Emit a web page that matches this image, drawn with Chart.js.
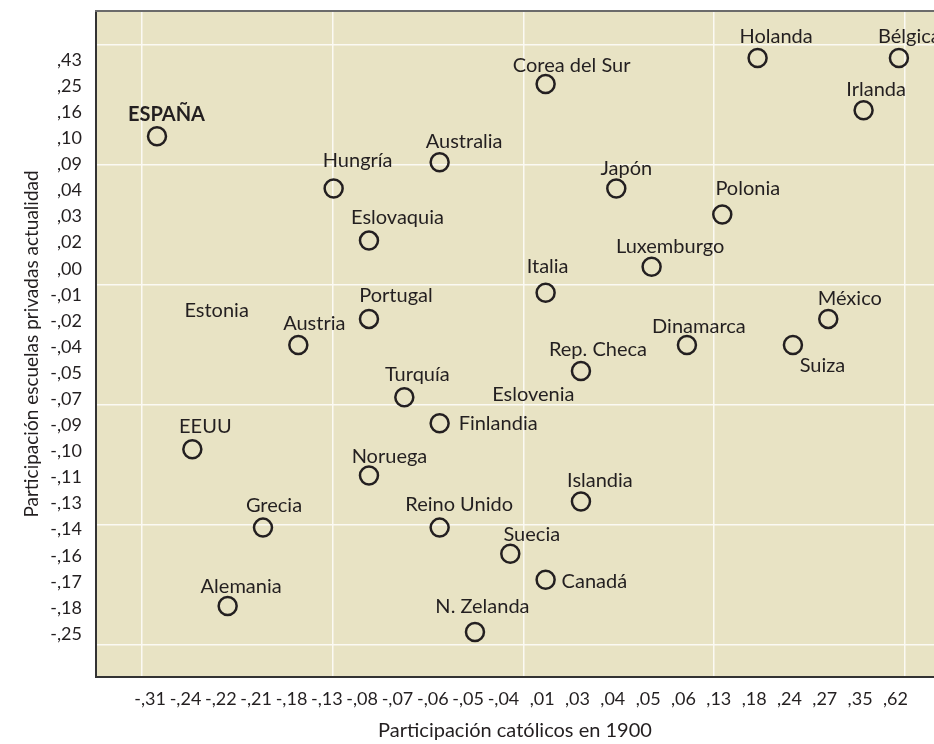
<!DOCTYPE html>
<html>
<head>
<meta charset="utf-8">
<script src="https://cdn.jsdelivr.net/npm/chart.js@4.4.1/dist/chart.umd.min.js"></script>
<style>
  html, body { margin: 0; padding: 0; background: #ffffff; }
</style>
</head>
<body>
<canvas id="c" width="934" height="744"></canvas>
<script>
// ---- data ----
const countries = ['ESPAÑA','EEUU','Alemania','Grecia','Estonia','Austria','Hungría','Eslovaquia','Portugal','Noruega','Turquía','Australia','Finlandia','Reino Unido','N. Zelanda','Suecia','Eslovenia','Corea del Sur','Italia','Canadá','Rep. Checa','Islandia','Japón','Luxemburgo','Dinamarca','Polonia','Holanda','Suiza','México','Irlanda','Bélgica'];
const catolicos1900 = [-0.31,-0.24,-0.22,-0.21,-0.22,-0.18,-0.13,-0.08,-0.08,-0.08,-0.07,-0.06,-0.06,-0.06,-0.05,-0.04,-0.04,0.01,0.01,0.01,0.03,0.03,0.04,0.05,0.06,0.13,0.18,0.24,0.27,0.35,0.62];
const escuelasPrivadas = [0.10,-0.10,-0.18,-0.14,-0.02,-0.04,0.04,0.02,-0.02,-0.11,-0.07,0.09,-0.09,-0.14,-0.25,-0.16,-0.09,0.25,-0.01,-0.17,-0.05,-0.13,0.04,0.00,-0.04,0.03,0.43,-0.04,-0.02,0.16,0.43];
const xTickLabels = ['-,31','-,24','-,22','-,21','-,18','-,13','-,08','-,07','-,06','-,05','-,04',',01',',03',',04',',05',',06',',13',',18',',24',',27',',35',',62'];
const yTickLabels = [',43',',25',',16',',10',',09',',04',',03',',02',',00','-,01','-,02','-,04','-,05','-,07','-,09','-,10','-,11','-,13','-,14','-,16','-,17','-,18','-,25'];
const xTickValues = [-0.31,-0.24,-0.22,-0.21,-0.18,-0.13,-0.08,-0.07,-0.06,-0.05,-0.04,0.01,0.03,0.04,0.05,0.06,0.13,0.18,0.24,0.27,0.35,0.62];
const yTickValues = [0.43,0.25,0.16,0.10,0.09,0.04,0.03,0.02,0.00,-0.01,-0.02,-0.04,-0.05,-0.07,-0.09,-0.10,-0.11,-0.13,-0.14,-0.16,-0.17,-0.18,-0.25];
const labelOnly = ['Estonia','Eslovenia'];
const xTitle = 'Participación católicos en 1900';
const yTitle = 'Participación escuelas privadas actualidad';

// ---- label placement (style, not data): [dx, baseline dy, align] ----
const labelPlacement = {
  'ESPAÑA':[9.5,-15,'center'], 'EEUU':[13,-16,'center'], 'Alemania':[13.5,-13,'center'], 'Grecia':[11,-15.5,'center'],
  'Estonia':[-11,-2,'center'], 'Austria':[16,-15,'center'], 'Hungría':[24,-21,'center'], 'Eslovaquia':[28.5,-16.5,'center'],
  'Portugal':[27,-16.5,'center'], 'Noruega':[20.5,-12,'center'], 'Turquía':[13,-16.5,'center'], 'Australia':[24.5,-14,'center'],
  'Finlandia':[19,7,'left'], 'Reino Unido':[19.5,-16.5,'center'], 'N. Zelanda':[7.5,-19,'center'], 'Suecia':[21.5,-12.5,'center'],
  'Eslovenia':[23,-22,'center'], 'Corea del Sur':[26,-12,'center'], 'Italia':[2,-20,'center'], 'Canadá':[16,8,'left'],
  'Rep. Checa':[17,-15,'center'], 'Islandia':[19,-15,'center'], 'Japón':[10,-13,'center'], 'Luxemburgo':[18.5,-13.5,'center'],
  'Dinamarca':[12,-12,'center'], 'Polonia':[25.5,-19.5,'center'], 'Holanda':[18.5,-15,'center'], 'Suiza':[29.5,27,'center'],
  'México':[21.5,-14,'center'], 'Irlanda':[12.5,-14,'center'], 'Bélgica':[-21,-15,'left']
};

const FONT = 'Lato';
const INK = '#231f20';

// rank positions (the chart is drawn on ranks of the values)
const xRank = v => xTickValues.indexOf(v);
const yRank = v => yTickValues.length - 1 - yTickValues.indexOf(v);
const points = countries.map((name, i) => ({ x: xRank(catolicos1900[i]), y: yRank(escuelasPrivadas[i]), name }));

const nY = yTickValues.length;
const X_MIN = -1.7266, X_MAX = 21.993;
const Y_MIN = -1.725, Y_MAX = 23.80;
const gridX = [-0.43, 4.97, 10.37, 15.77, 21.17];
const gridY = [-0.5, 4.1, 8.7, 13.3, 17.9, 22.5];

const noPad = s => { s.paddingTop = 0; s.paddingBottom = 0; s.paddingLeft = 0; s.paddingRight = 0; };

const plotBg = {
  id: 'plotBg',
  beforeDraw(chart) {
    const { ctx, chartArea: a } = chart;
    ctx.save();
    ctx.fillStyle = '#e8e3c4';
    ctx.fillRect(a.left, a.top, a.right - a.left, a.bottom - a.top);
    ctx.restore();
  }
};
const pointLabels = {
  id: 'pointLabels',
  afterDatasetsDraw(chart) {
    const { ctx } = chart;
    const meta = chart.getDatasetMeta(0);
    ctx.save();
    ctx.fillStyle = INK;
    ctx.textBaseline = 'alphabetic';
    meta.data.forEach((el, i) => {
      const name = points[i].name;
      const p = labelPlacement[name] || [0, -15, 'center'];
      ctx.font = (name === 'ESPAÑA' ? 'bold ' : '') + '20px ' + FONT;
      ctx.textAlign = p[2];
      ctx.fillText(name, el.x + p[0], el.y + p[1]);
    });
    ctx.restore();
  }
};

new Chart(document.getElementById('c'), {
  type: 'scatter',
  data: {
    datasets: [{
      data: points,
      pointRadius: c => labelOnly.includes(points[c.dataIndex].name) ? 0 : 9,
      pointHoverRadius: c => labelOnly.includes(points[c.dataIndex].name) ? 0 : 9,
      pointBorderWidth: 2.5,
      pointBorderColor: INK,
      pointBackgroundColor: 'rgba(0,0,0,0)'
    }]
  },
  options: {
    responsive: false,
    animation: false,
    events: [],
    layout: { autoPadding: false, padding: { left: 10, top: 11, right: 0, bottom: 0 } },
    plugins: { legend: { display: false }, tooltip: { enabled: false } },
    scales: {
      x: {
        type: 'linear', position: 'bottom', min: X_MIN, max: X_MAX,
        afterBuildTicks: s => { s.ticks = xTickLabels.map((_, i) => ({ value: i })); },
        afterFit: s => { s.height = 67; noPad(s); },
        grid: { display: false, drawTicks: false },
        border: { display: true, color: '#333333', width: 2 },
        ticks: { autoSkip: false, maxRotation: 0, align: 'end', labelOffset: 9, padding: 11, color: INK,
                 font: { family: FONT, size: 18 }, callback: v => xTickLabels[v] },
        title: { display: true, text: xTitle, color: INK, font: { family: FONT, size: 20 }, padding: { top: 0, bottom: 1 } }
      },
      y: {
        type: 'linear', position: 'left', min: Y_MIN, max: Y_MAX,
        afterBuildTicks: s => { s.ticks = yTickLabels.map((_, i) => ({ value: i })); },
        afterFit: s => { s.width = 86; noPad(s); },
        grid: { display: false, drawTicks: false },
        border: { display: true, color: '#333333', width: 2 },
        ticks: { autoSkip: false, labelOffset: 2, padding: 14, color: INK,
                 font: { family: FONT, size: 18 }, callback: v => yTickLabels[nY - 1 - v] },
        title: { display: true, text: yTitle, color: INK, font: { family: FONT, size: 19 }, padding: { top: 10, bottom: 0 } }
      },
      x2: {
        type: 'linear', position: 'top', min: X_MIN, max: X_MAX,
        afterBuildTicks: s => { s.ticks = gridX.map(v => ({ value: v })); },
        afterFit: s => { s.height = 0; noPad(s); },
        grid: { display: true, color: '#fbfaf3', lineWidth: 1.5, drawTicks: false },
        border: { display: true, color: '#6b6b6b', width: 2 },
        ticks: { display: false }
      },
      y2: {
        type: 'linear', position: 'right', min: Y_MIN, max: Y_MAX,
        afterBuildTicks: s => { s.ticks = gridY.map(v => ({ value: v })); },
        afterFit: s => { s.width = 0; noPad(s); },
        grid: { display: true, color: '#fbfaf3', lineWidth: 1.5, drawTicks: false },
        border: { display: false },
        ticks: { display: false }
      }
    }
  },
  plugins: [plotBg, pointLabels]
});
</script>
</body>
</html>
